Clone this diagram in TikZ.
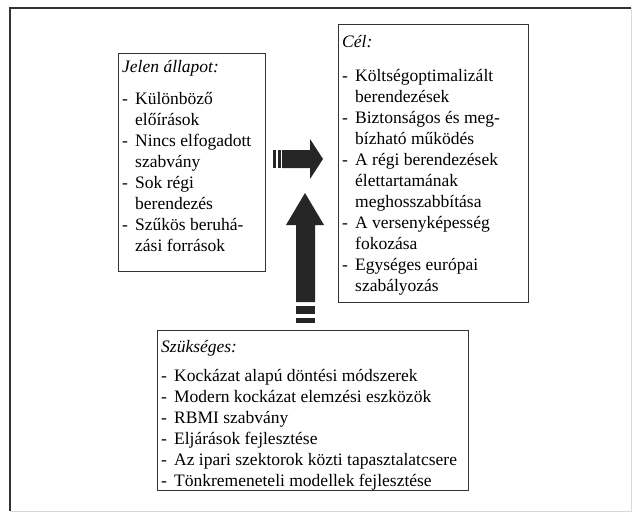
\documentclass[tikz,border=0pt]{standalone}
\usepackage{fontspec}
\setmainfont{Liberation Serif}
\tikzstyle{frame}=[draw=black!80,line width=1pt,inner sep=0pt,anchor=north west]
\tikzstyle{content}=[align=left,inner sep=0pt,anchor=north west,font=\fontsize{17.5}{21}\selectfont]
\tikzstyle{blockarrow}=[fill=black!85]
\newcommand{\itm}{\makebox[13pt][l]{-}}
\newcommand{\cnt}{\hspace*{13pt}}

\begin{document}
\begin{tikzpicture}[x=1pt,y=-1pt]
\useasboundingbox (0,0) rectangle (632,512);
% outer frame
\draw[black!15,line width=0.8pt] (10,8) rectangle (631,511);
\draw[black!80,line width=1.6pt] (631,8) -- (10,8) -- (10,511);
% boxes
\node[frame,minimum width=147pt,minimum height=218pt] (jelen) at (118,53) {};
\node[frame,minimum width=190pt,minimum height=278pt] (cel) at (338,24) {};
\node[frame,minimum width=311pt,minimum height=160pt] (szukseges) at (157,330) {};
% texts
\node[content] (jelentext) at ([shift={(4,7)}]jelen.north west) {\textit{Jelen állapot:}\\[11pt]
\itm Különböző\\ \cnt előírások\\ \itm Nincs elfogadott\\ \cnt szabvány\\
\itm Sok régi\\ \cnt berendezés\\ \itm Szűkös beruhá-\\ \cnt zási források};
\node[content] (celtext) at ([shift={(4,11)}]cel.north west) {\textit{Cél:}\\[13pt]
\itm Költségoptimalizált\\ \cnt berendezések\\ \itm Biztonságos és meg-\\ \cnt bízható működés\\
\itm A régi berendezések\\ \cnt élettartamának\\ \cnt meghosszabbítása\\
\itm A versenyképesség\\ \cnt fokozása\\ \itm Egységes európai\\ \cnt szabályozás};
\node[content] (szukségestext) at ([shift={(4,10)}]szukseges.north west) {\textit{Szükséges:}\\[8pt]
\itm Kockázat alapú döntési módszerek\\ \itm Modern kockázat elemzési eszközök\\
\itm RBMI szabvány\\ \itm Eljárások fejlesztése\\
\itm Az ipari szektorok közti tapasztalatcsere\\ \itm Tönkremeneteli modellek fejlesztése};
% arrows
\fill[blockarrow] (282,150) -- (310,150) -- (310,139) -- (323,159) -- (310,179) -- (310,168) -- (282,168) -- cycle;
\fill[blockarrow] (273,150) rectangle (276,168);
\fill[blockarrow] (277.5,150) rectangle (281,168);
\fill[blockarrow] (296,302) -- (296,225) -- (286,225) -- (305,193) -- (324,225) -- (315,225) -- (315,302) -- cycle;
\fill[blockarrow] (296,306) rectangle (315,314);
\fill[blockarrow] (296,317.5) rectangle (315,322.5);
\end{tikzpicture}
\end{document}
